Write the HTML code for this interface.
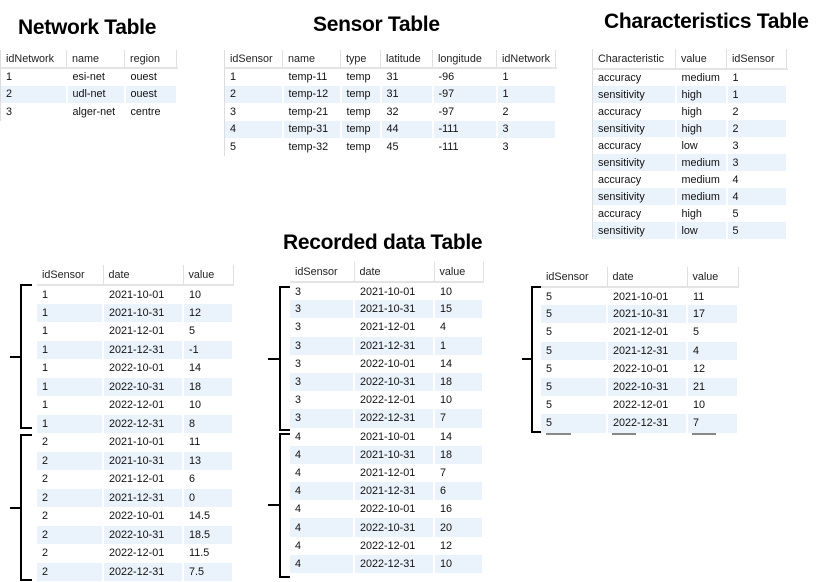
<!DOCTYPE html>
<html><head><meta charset="utf-8"><style>
body{margin:0;width:822px;height:582px;background:#fff;position:relative;overflow:hidden;font-family:"Liberation Sans",Tahoma,sans-serif;}
.t{position:absolute;font-weight:bold;font-size:21px;color:#000;letter-spacing:-0.3px;white-space:nowrap}
table{position:absolute;border-collapse:collapse;table-layout:fixed;font-size:10.8px;color:#111}
td,th{padding:0 0 0 5px;white-space:nowrap;overflow:hidden;text-align:left;font-weight:normal;border-right:2px solid #fff}
th{border-bottom:2px solid #e4e4e4;border-right:1px solid #e0e0e0;color:#222}
tr:nth-child(even) td{background:#eaf2fb}
</style></head><body>
<div class="t" style="left:18px;top:16px">Network Table</div>
<div class="t" style="left:313px;top:13px">Sensor Table</div>
<div class="t" style="left:604px;top:10px">Characteristics Table</div>
<div class="t" style="left:283px;top:231px">Recorded data Table</div>

<table style="left:0;top:50px;width:176px;border-left:1px solid #ddd">
<colgroup><col style="width:66px"><col style="width:58px"><col style="width:52px"></colgroup>
<thead><tr style="height:18px"><th>idNetwork</th><th>name</th><th>region</th></tr></thead>
<tbody>
<tr style="height:17.5px"><td>1</td><td>esi-net</td><td>ouest</td></tr>
<tr style="height:17.5px"><td>2</td><td>udl-net</td><td>ouest</td></tr>
<tr style="height:17.5px"><td>3</td><td>alger-net</td><td>centre</td></tr>
</tbody></table>

<table style="left:224px;top:50px;width:331px;border-left:1px solid #ddd">
<colgroup><col style="width:58px"><col style="width:58px"><col style="width:40px"><col style="width:52px"><col style="width:64px"><col style="width:59px"></colgroup>
<thead><tr style="height:18px"><th>idSensor</th><th>name</th><th>type</th><th>latitude</th><th>longitude</th><th>idNetwork</th></tr></thead>
<tbody>
<tr style="height:17.5px"><td>1</td><td>temp-11</td><td>temp</td><td>31</td><td>-96</td><td>1</td></tr>
<tr style="height:17.5px"><td>2</td><td>temp-12</td><td>temp</td><td>31</td><td>-97</td><td>1</td></tr>
<tr style="height:17.5px"><td>3</td><td>temp-21</td><td>temp</td><td>32</td><td>-97</td><td>2</td></tr>
<tr style="height:17.5px"><td>4</td><td>temp-31</td><td>temp</td><td>44</td><td>-111</td><td>3</td></tr>
<tr style="height:17.5px"><td>5</td><td>temp-32</td><td>temp</td><td>45</td><td>-111</td><td>3</td></tr>
</tbody></table>

<table style="left:592px;top:49px;width:194px;border-left:1px solid #ddd">
<colgroup><col style="width:83px"><col style="width:51px"><col style="width:60px"></colgroup>
<thead><tr style="height:20px"><th>Characteristic</th><th>value</th><th>idSensor</th></tr></thead>
<tbody>
<tr style="height:17px"><td>accuracy</td><td>medium</td><td>1</td></tr>
<tr style="height:17px"><td>sensitivity</td><td>high</td><td>1</td></tr>
<tr style="height:17px"><td>accuracy</td><td>high</td><td>2</td></tr>
<tr style="height:17px"><td>sensitivity</td><td>high</td><td>2</td></tr>
<tr style="height:17px"><td>accuracy</td><td>low</td><td>3</td></tr>
<tr style="height:17px"><td>sensitivity</td><td>medium</td><td>3</td></tr>
<tr style="height:17px"><td>accuracy</td><td>medium</td><td>4</td></tr>
<tr style="height:17px"><td>sensitivity</td><td>medium</td><td>4</td></tr>
<tr style="height:17px"><td>accuracy</td><td>high</td><td>5</td></tr>
<tr style="height:17px"><td>sensitivity</td><td>low</td><td>5</td></tr>
</tbody></table>

<table style="left:37px;top:265px;width:196px">
<colgroup><col style="width:66px"><col style="width:80px"><col style="width:50px"></colgroup>
<thead><tr style="height:20px"><th>idSensor</th><th>date</th><th>value</th></tr></thead>
<tbody>
<tr style="height:18.5px"><td>1</td><td>2021-10-01</td><td>10</td></tr>
<tr style="height:18.5px"><td>1</td><td>2021-10-31</td><td>12</td></tr>
<tr style="height:18.5px"><td>1</td><td>2021-12-01</td><td>5</td></tr>
<tr style="height:18.5px"><td>1</td><td>2021-12-31</td><td>-1</td></tr>
<tr style="height:18.5px"><td>1</td><td>2022-10-01</td><td>14</td></tr>
<tr style="height:18.5px"><td>1</td><td>2022-10-31</td><td>18</td></tr>
<tr style="height:18.5px"><td>1</td><td>2022-12-01</td><td>10</td></tr>
<tr style="height:18.5px"><td>1</td><td>2022-12-31</td><td>8</td></tr>
<tr style="height:18.5px"><td>2</td><td>2021-10-01</td><td>11</td></tr>
<tr style="height:18.5px"><td>2</td><td>2021-10-31</td><td>13</td></tr>
<tr style="height:18.5px"><td>2</td><td>2021-12-01</td><td>6</td></tr>
<tr style="height:18.5px"><td>2</td><td>2021-12-31</td><td>0</td></tr>
<tr style="height:18.5px"><td>2</td><td>2022-10-01</td><td>14.5</td></tr>
<tr style="height:18.5px"><td>2</td><td>2022-10-31</td><td>18.5</td></tr>
<tr style="height:18.5px"><td>2</td><td>2022-12-01</td><td>11.5</td></tr>
<tr style="height:18.5px"><td>2</td><td>2022-12-31</td><td>7.5</td></tr>
</tbody></table>

<table style="left:290px;top:262px;width:193px">
<colgroup><col style="width:64px"><col style="width:80px"><col style="width:49px"></colgroup>
<thead><tr style="height:20px"><th>idSensor</th><th>date</th><th>value</th></tr></thead>
<tbody>
<tr style="height:18.2px"><td>3</td><td>2021-10-01</td><td>10</td></tr>
<tr style="height:18.2px"><td>3</td><td>2021-10-31</td><td>15</td></tr>
<tr style="height:18.2px"><td>3</td><td>2021-12-01</td><td>4</td></tr>
<tr style="height:18.2px"><td>3</td><td>2021-12-31</td><td>1</td></tr>
<tr style="height:18.2px"><td>3</td><td>2022-10-01</td><td>14</td></tr>
<tr style="height:18.2px"><td>3</td><td>2022-10-31</td><td>18</td></tr>
<tr style="height:18.2px"><td>3</td><td>2022-12-01</td><td>10</td></tr>
<tr style="height:18.2px"><td>3</td><td>2022-12-31</td><td>7</td></tr>
<tr style="height:18.2px"><td>4</td><td>2021-10-01</td><td>14</td></tr>
<tr style="height:18.2px"><td>4</td><td>2021-10-31</td><td>18</td></tr>
<tr style="height:18.2px"><td>4</td><td>2021-12-01</td><td>7</td></tr>
<tr style="height:18.2px"><td>4</td><td>2021-12-31</td><td>6</td></tr>
<tr style="height:18.2px"><td>4</td><td>2022-10-01</td><td>16</td></tr>
<tr style="height:18.2px"><td>4</td><td>2022-10-31</td><td>20</td></tr>
<tr style="height:18.2px"><td>4</td><td>2022-12-01</td><td>12</td></tr>
<tr style="height:18.2px"><td>4</td><td>2022-12-31</td><td>10</td></tr>
</tbody></table>

<table style="left:541px;top:267px;width:197px">
<colgroup><col style="width:66px"><col style="width:80px"><col style="width:51px"></colgroup>
<thead><tr style="height:20px"><th>idSensor</th><th>date</th><th>value</th></tr></thead>
<tbody>
<tr style="height:18.2px"><td>5</td><td>2021-10-01</td><td>11</td></tr>
<tr style="height:18.2px"><td>5</td><td>2021-10-31</td><td>17</td></tr>
<tr style="height:18.2px"><td>5</td><td>2021-12-01</td><td>5</td></tr>
<tr style="height:18.2px"><td>5</td><td>2021-12-31</td><td>4</td></tr>
<tr style="height:18.2px"><td>5</td><td>2022-10-01</td><td>12</td></tr>
<tr style="height:18.2px"><td>5</td><td>2022-10-31</td><td>21</td></tr>
<tr style="height:18.2px"><td>5</td><td>2022-12-01</td><td>10</td></tr>
<tr style="height:18.2px"><td>5</td><td>2022-12-31</td><td>7</td></tr>
</tbody></table>

<svg style="position:absolute;left:0;top:0" width="822" height="582">
<g stroke="#000" stroke-width="2" fill="none">
<path d="M32 285 H21 V428 H32 M21 357 H10"/>
<path d="M32 435 H21 V580 H32 M21 508 H10"/>
<path d="M290 287 H280 V430 H290 M280 359 H268"/>
<path d="M290 434 H280 V577 H290 M280 505 H268"/>
<path d="M541 287 H532 V432 H541 M532 359 H522"/>
</g>
<g stroke="#888" stroke-width="2">
<path d="M546 434 H571 M612 434 H636 M692 434 H716"/>
</g>
</svg>
</body></html>
